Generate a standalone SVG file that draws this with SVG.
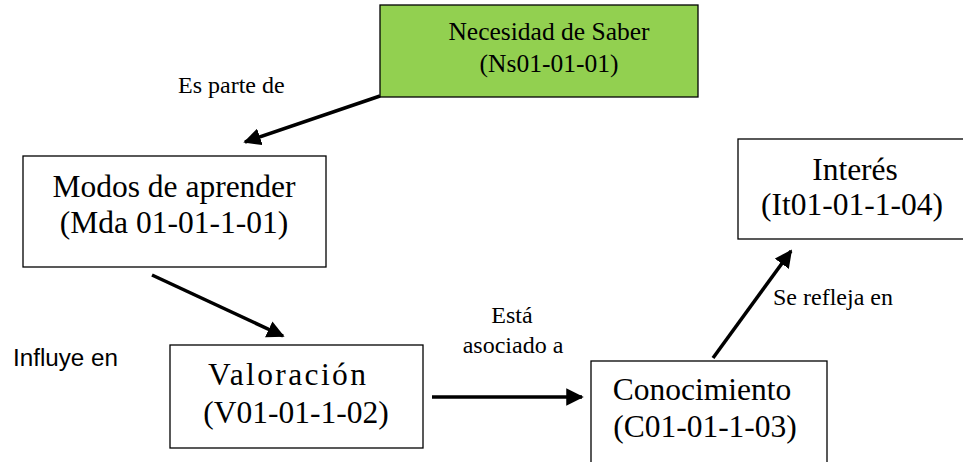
<svg xmlns="http://www.w3.org/2000/svg" width="963" height="462" viewBox="0 0 963 462">
<defs>
<marker id="ah" viewBox="0 0 10 10" refX="9" refY="5" markerWidth="5" markerHeight="5" orient="auto" markerUnits="strokeWidth">
<path d="M0,0 L10,5 L0,10 z" fill="#000"/>
</marker>
<style>
.box{fill:#fff;stroke:#000;stroke-width:1.3}
.green{fill:#92d050}
.t{font-family:"Liberation Serif","Times New Roman",serif;fill:#000;text-anchor:middle}
.big{font-size:31.5px}
.mid{font-size:25.5px}
.lbl{font-family:"Liberation Serif","Times New Roman",serif;font-size:24px;fill:#000}
.sans{font-family:"Liberation Sans",Arial,sans-serif;font-size:23px;fill:#000}
.c{fill:none;stroke:#000;stroke-width:3.5;marker-end:url(#ah)}
</style>
</defs>
<rect width="963" height="462" fill="#fff"/>
<g id="n-necesidad">
<rect class="box green" x="380" y="5" width="318" height="92"/>
<text class="t mid" x="549" y="40">Necesidad de Saber</text>
<text class="t mid" x="549" y="72">(Ns01-01-01)</text>
</g>
<g id="n-modos">
<rect class="box" x="23" y="156" width="303" height="111"/>
<text class="t big" x="174" y="197">Modos de aprender</text>
<text class="t big" x="174" y="233">(Mda 01-01-1-01)</text>
</g>
<g id="n-valoracion">
<rect class="box" x="170" y="345" width="253" height="103"/>
<text class="t big" x="287" y="385" textLength="158" lengthAdjust="spacing">Valoración</text>
<text class="t big" x="296" y="423">(V01-01-1-02)</text>
</g>
<g id="n-conocimiento">
<rect class="box" x="591" y="361" width="236" height="110"/>
<text class="t big" x="702" y="400">Conocimiento</text>
<text class="t big" x="705" y="437">(C01-01-1-03)</text>
</g>
<g id="n-interes">
<rect class="box" x="738" y="139" width="230" height="100"/>
<text class="t big" x="855" y="180">Interés</text>
<text class="t big" x="852" y="215">(It01-01-1-04)</text>
</g>
<g id="connectors">
<line class="c" x1="380" y1="96" x2="245" y2="142"/>
<line class="c" x1="152" y1="275" x2="283" y2="336"/>
<line class="c" x1="432" y1="397" x2="582" y2="397"/>
<line class="c" x1="713" y1="358" x2="791" y2="251"/>
</g>
<g id="labels">
<text class="lbl" x="178" y="93">Es parte de</text>
<text class="lbl" x="512" y="323" text-anchor="middle">Está</text>
<text class="lbl" x="513" y="353" text-anchor="middle">asociado a</text>
<text class="lbl" x="773" y="305">Se refleja en</text>
<text class="sans" x="13" y="366" textLength="105" lengthAdjust="spacingAndGlyphs">Influye en</text>
</g>
</svg>
